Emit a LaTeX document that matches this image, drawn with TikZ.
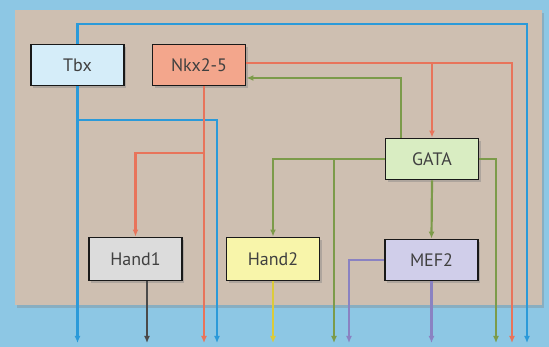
\documentclass[tikz,border=0pt]{standalone}
\usepackage{fontspec}
\setmainfont{PT Sans}
\usetikzlibrary{arrows.meta,shadows}

\definecolor{skyblue}{HTML}{8DC7E4}
\definecolor{panelbg}{HTML}{CEBFB1}
\definecolor{tbxfill}{HTML}{D5EDF9}
\definecolor{nkxfill}{HTML}{F3A68C}
\definecolor{gatafill}{HTML}{D9EDC2}
\definecolor{handafill}{HTML}{DCDCDC}
\definecolor{handbfill}{HTML}{F8F5AA}
\definecolor{meffill}{HTML}{D0CEEA}
\definecolor{tbxline}{HTML}{2B9AD9}
\definecolor{nkxline}{HTML}{E8745B}
\definecolor{gataline}{HTML}{7C9B4A}
\definecolor{handaline}{HTML}{4A4A4A}
\definecolor{handbline}{HTML}{DCCB3A}
\definecolor{mefline}{HTML}{8A82C2}

\tikzset{
  gene/.style={draw=black!90, line width=1.9pt, minimum width=93pt,
    minimum height=41pt, inner sep=0pt, text=black!75,
    font=\fontsize{18}{20}\selectfont,
    drop shadow={shadow xshift=2pt, shadow yshift=-2.5pt, opacity=0.4}},
  link/.style={line width=2.2pt, -{Latex[length=7pt,width=6pt]}}
}

\begin{document}
\begin{tikzpicture}[x=1pt,y=-1pt]
    \fill[skyblue] (0,0) rectangle (549,347);
    \fill[panelbg, drop shadow={shadow xshift=2pt, shadow yshift=-3pt, opacity=0.35}]
      (15,10) rectangle (542,305);
    \useasboundingbox (0,0) rectangle (549,347);

    \coordinate (base) at (0,343);
    \coordinate (tbxR) at (527,24);
    \coordinate (tbxM) at (217,120);
    \coordinate (nkxR) at (512,63);
    \coordinate (nkxD) at (204,0);
    \coordinate (nkxB) at (204,153);
    \coordinate (gataU) at (401,78);
    \coordinate (gataM) at (334,159);
    \coordinate (gataR) at (496,159);
    \coordinate (handD) at (147,0);
    \coordinate (mefL) at (349,0);

    \node [gene, fill=tbxfill] (tbx) at (77.5,65) {Tbx};
    \node [gene, fill=nkxfill] (nkx) at (199,65) {Nkx2-5};
    \node [gene, fill=gatafill] (gata) at (432,159) {GATA};
    \node [gene, fill=handafill, minimum height=43pt] (hand1) at (135.5,259) {Hand1};
    \node [gene, fill=handbfill, minimum height=43pt] (hand2) at (273,259) {Hand2};
    \node [gene, fill=meffill] (mef) at (431.5,260) {MEF2};

      % Tbx
      \draw [link, tbxline] (tbx.north) |- (tbxR) -- (tbxR |- base);
      \draw [link, tbxline] (tbx.south) -- (tbx.south |- base);
      \draw [link, tbxline] (tbx.south |- tbxM) -- (tbxM) -- (tbxM |- base);
      % Nkx2-5
      \draw [link, nkxline] (nkx.east |- nkxR) -- (nkxR) -- (nkxR |- base);
      \draw [link, nkxline] (gata.north |- nkxR) -- (gata.north);
      \draw [link, nkxline] (nkx.south -| nkxD) -- (nkxD |- base);
      \draw [link, nkxline] (nkxB) -| (hand1.north);
      % GATA
      \draw [link, gataline] (gata.north -| gataU) -- (gataU) -- (gataU -| nkx.east);
      \draw [link, gataline] (gata.west) -| (hand2.north);
      \draw [link, gataline] (gataM) -- (gataM |- base);
      \draw [link, gataline] (gata.east) -| (gataR |- base);
      \draw [link, gataline] (gata.south) -- (mef.north);
      % Hand1, Hand2
      \draw [link, handaline] (hand1.south -| handD) -- (handD |- base);
      \draw [link, handbline] (hand2.south) -- (hand2.south |- base);
      % MEF2
      \draw [link, mefline] (mef.west) -| (mefL |- base);
      \draw [link, mefline] (mef.south) -- (mef.south |- base);
  \end{tikzpicture}
\end{document}
